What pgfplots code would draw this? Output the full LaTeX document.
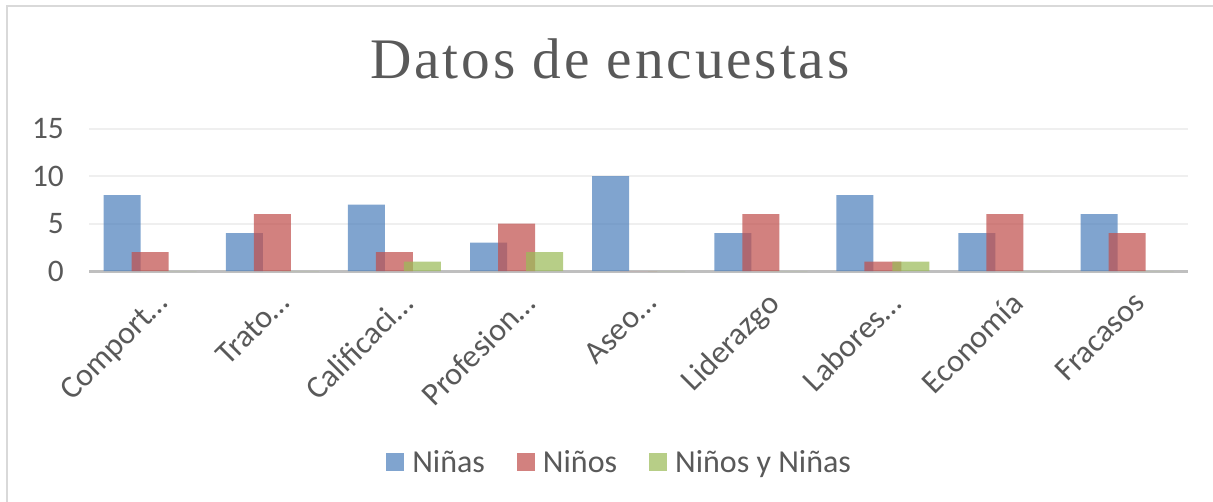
\documentclass[border=0pt]{standalone}
\usepackage{fontspec}
\usepackage{pgfplots}
\pgfplotsset{compat=1.18}
\setmainfont{Carlito}
\newfontfamily\titlefont[LetterSpace=5]{Liberation Serif}
\definecolor{txt}{HTML}{595959}
\definecolor{cNinas}{HTML}{4F81BD}
\definecolor{cNinos}{HTML}{C0504D}
\definecolor{cAmbos}{HTML}{9BBB59}
\definecolor{gridc}{HTML}{EFEFEF}
\definecolor{axisc}{HTML}{BFBFBF}
\definecolor{framec}{HTML}{D9D9D9}
\begin{document}
\begin{tikzpicture}[x=0.75pt,y=0.75pt]
\useasboundingbox (0,0) rectangle (1213,502);
\draw[framec, line width=1.5pt] (7,0) -- (7,496) -- (1213,496);
\node[anchor=base, text=txt, inner sep=0pt] at (610,423)
  {\titlefont\fontsize{43}{50}\selectfont Datos de encuestas};
\begin{axis}[
    at={(73,243)}, anchor=south west,
    scale only axis,
    width=824.25pt, height=106.9pt,
    xmin=-0.5, xmax=8.5,
    ymin=0, ymax=15,
    ytick={0,5,10,15},
    xtick={0,...,8},
    xticklabels={Comport…,Trato…,Calificaci…,Profesion…,Aseo…,Liderazgo,Labores…,Economía,Fracasos},
    major tick length=0pt,
    axis lines*=left,
    x axis line style={axisc, line width=2.2pt},
    y axis line style={draw=none},
    ymajorgrids,
    grid style={gridc, line width=1.5pt},
    /pgf/number format/assume math mode=true,
    ticklabel style={text=txt},
    yticklabel style={font=\fontsize{23.5}{28}\selectfont, inner sep=0pt, anchor=east, xshift=-18.75pt},
    xticklabel style={font=\fontsize{24}{28}\selectfont, xshift=3.4pt, yshift=-13.8pt, rotate=45, anchor=north east, inner sep=0pt},
    bar width=27.75pt,
    legend style={at={(0.483,-1.34)}, anchor=center, draw=none, fill=none,
      legend columns=-1, font=\fontsize{24}{28}\selectfont, text=txt,
      /tikz/every odd column/.append style={column sep=4pt},
      /tikz/every even column/.append style={column sep=22pt}},
    legend image code/.code={\fill[#1] (0pt,-6.75pt) rectangle (13.5pt,6.75pt);},
]
\addplot[ybar, bar shift=-21pt, fill=cNinas, fill opacity=0.72, draw=none] coordinates {
 (0,8) (1,4) (2,7) (3,3) (4,10) (5,4) (6,8) (7,4) (8,6)};
\addplot[ybar, bar shift=0pt, fill=cNinos, fill opacity=0.72, draw=none] coordinates {
 (0,2) (1,6) (2,2) (3,5) (4,0) (5,6) (6,1) (7,6) (8,4)};
\addplot[ybar, bar shift=21pt, fill=cAmbos, fill opacity=0.72, draw=none] coordinates {
 (0,0) (1,0) (2,1) (3,2) (4,0) (5,0) (6,1) (7,0) (8,0)};
\legend{Niñas,Niños,Niños y Niñas}
\end{axis}
\end{tikzpicture}
\end{document}
